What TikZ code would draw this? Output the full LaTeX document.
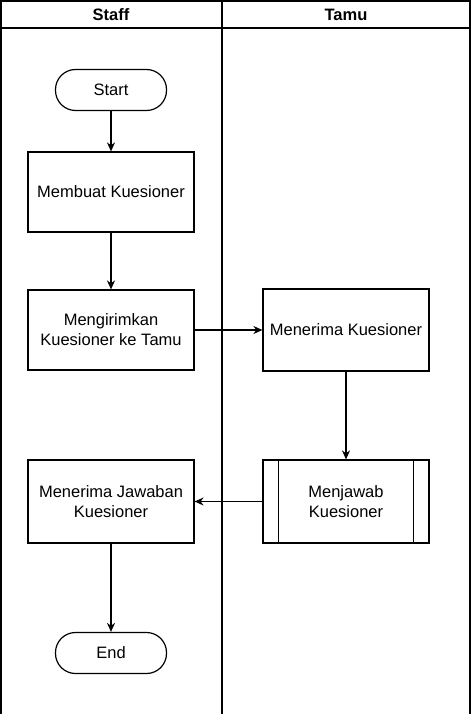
\documentclass[tikz,border=0pt]{standalone}
\usepackage{fontspec}
\setmainfont{Liberation Sans}
\usetikzlibrary{arrows.meta}
\begin{document}
\begin{tikzpicture}[x=1pt, y=-1pt, line width=1.2pt, >={Stealth[length=9pt,width=8pt]},
    font=\fontsize{16.5}{20}\selectfont,
    proc/.style={draw, minimum width=166pt, minimum height=80pt, align=center, inner sep=0pt},
    term/.style={draw, rounded corners=20pt, minimum width=111pt, minimum height=41pt, inner sep=0pt}]
    \useasboundingbox (0,0) rectangle (472,714);
    % lanes
    \draw (1,1) rectangle (470,718);
    \draw (1,28) -- (470,28);
    \draw (222,1) -- (222,718);
    \node[font=\fontsize{16.5}{20}\selectfont\bfseries] (staff) at (111,14.5) {Staff};
    \node[font=\fontsize{16.5}{20}\selectfont\bfseries] (tamu) at (346,14.5) {Tamu};
    % steps
    \node[term] (start) at (111,90) {Start};
    \node[proc] (buat) at (111,192) {Membuat Kuesioner};
    \node[proc] (kirim) at (111,330) {Mengirimkan\\Kuesioner ke Tamu};
    \node[proc, minimum height=82pt] (terima) at (346,330) {Menerima Kuesioner};
    \node[proc, minimum height=83pt] (jawab) at (346,501.5) {Menjawab\\Kuesioner};
    \draw ([xshift=16pt]jawab.north west) -- ([xshift=16pt]jawab.south west);
    \draw ([xshift=-16pt]jawab.north east) -- ([xshift=-16pt]jawab.south east);
    \node[proc, minimum height=83pt] (jawaban) at (111,501.5) {Menerima Jawaban\\Kuesioner};
    \node[term] (end) at (111,653) {End};
    \draw[->] (start) to (buat);
    \draw[->] (buat) to (kirim);
    \draw[->] (kirim) to (terima);
    \draw[->] (terima) to (jawab);
    \draw[->] (jawab) to (jawaban);
    \draw[->] (jawaban) to (end);
\end{tikzpicture}
\end{document}
